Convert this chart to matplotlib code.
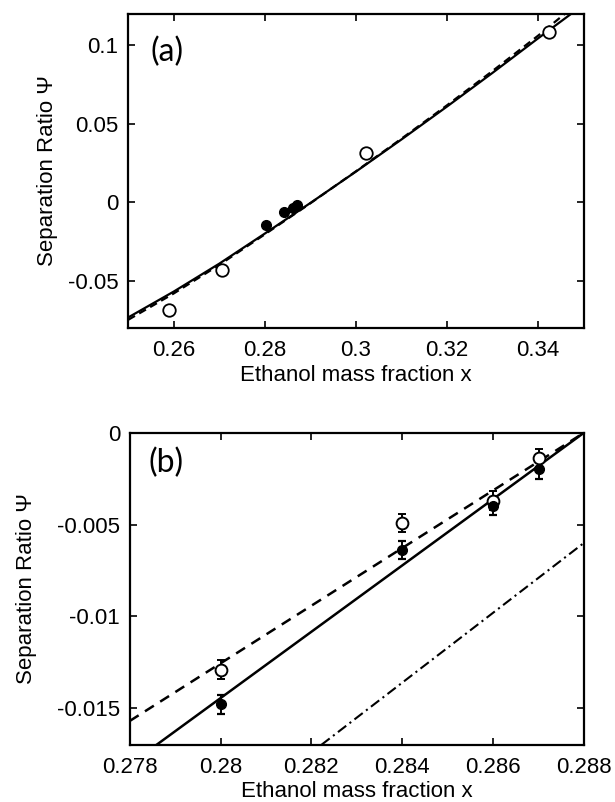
import matplotlib
matplotlib.use("Agg")
import matplotlib.pyplot as plt

# ---------------- data: panel (a) ----------------
a_open_x = [0.2590, 0.2707, 0.3022, 0.3425]
a_open_y = [-0.0685, -0.0430, 0.0315, 0.1085]
a_fill_x = [0.2802, 0.2842, 0.2861, 0.2870]
a_fill_y = [-0.0148, -0.0062, -0.0036, -0.0018]

a_solid_x = [0.250, 0.260, 0.270, 0.280, 0.290, 0.300, 0.310, 0.320, 0.330, 0.340, 0.3472]
a_solid_y = [-0.0735, -0.0570, -0.0392, -0.0200, -0.0005, 0.0195, 0.0400, 0.0610, 0.0825, 0.1045, 0.1200]
a_dash_x = [0.250, 0.260, 0.270, 0.280, 0.290, 0.300, 0.310, 0.320, 0.330, 0.340, 0.3458]
a_dash_y = [-0.0750, -0.0582, -0.0400, -0.0205, -0.0007, 0.0197, 0.0405, 0.0618, 0.0837, 0.1062, 0.1200]

a_xticks = [0.26, 0.28, 0.30, 0.32, 0.34]
a_xticklabels = ["0.26", "0.28", "0.3", "0.32", "0.34"]
a_yticks = [-0.05, 0.0, 0.05, 0.1]
a_yticklabels = ["-0.05", "0", "0.05", "0.1"]

# ---------------- data: panel (b) ----------------
b_open_x = [0.280, 0.284, 0.286, 0.287]
b_open_y = [-0.0129, -0.0049, -0.0037, -0.0014]
b_open_err = [0.0005, 0.0005, 0.0005, 0.0005]
b_fill_x = [0.280, 0.284, 0.286, 0.287]
b_fill_y = [-0.0148, -0.0064, -0.0040, -0.0020]
b_fill_err = [0.0005, 0.0005, 0.0005, 0.0005]

b_solid_x = [0.27859, 0.288]
b_solid_y = [-0.017, 0.0]
b_dash_x = [0.278, 0.288]
b_dash_y = [-0.0157, 0.0]
b_dashdot_x = [0.28222, 0.288]
b_dashdot_y = [-0.017, -0.0060]

b_xticks = [0.278, 0.280, 0.282, 0.284, 0.286, 0.288]
b_xticklabels = ["0.278", "0.28", "0.282", "0.284", "0.286", "0.288"]
b_yticks = [-0.015, -0.010, -0.005, 0.0]
b_yticklabels = ["-0.015", "-0.01", "-0.005", "0"]

xlabel = "Ethanol mass fraction x"
ylabel = "Separation Ratio \u03a8"

# ---------------- style ----------------
plt.rcParams["font.family"] = ["Liberation Sans", "DejaVu Sans"]
FS = 16

fig = plt.figure(figsize=(6.15, 8.02), dpi=100)
axa = fig.add_axes([0.2085, 0.5915, 0.7405, 0.391])
axb = fig.add_axes([0.2110, 0.0713, 0.7385, 0.3891])


def style(ax):
    for s in ax.spines.values():
        s.set_linewidth(1.6)
    ax.tick_params(direction="in", top=True, right=True, length=5, width=1.2,
                   labelsize=FS)
    ax.tick_params(axis="x", pad=9)
    ax.tick_params(axis="y", pad=7)


# panel (a)
axa.plot(a_solid_x, a_solid_y, color="black", lw=1.6)
axa.plot(a_dash_x, a_dash_y, color="black", lw=1.6, dashes=(3.5, 2.2))
axa.plot(a_open_x, a_open_y, "o", ms=9, mfc="white", mec="black", mew=1.3)
axa.plot(a_fill_x, a_fill_y, "o", ms=7, mfc="black", mec="black")
axa.set_xlim(0.25, 0.35)
axa.set_ylim(-0.08, 0.12)
axa.set_xticks(a_xticks)
axa.set_xticklabels(a_xticklabels)
axa.set_yticks(a_yticks)
axa.set_yticklabels(a_yticklabels)
style(axa)
axa.set_xlabel(xlabel, fontsize=FS, labelpad=3)
axa.set_ylabel(ylabel, fontsize=FS)
axa.yaxis.set_label_coords(-0.155, 0.5)
axa.text(0.05, 0.879, "(a)", transform=axa.transAxes, fontsize=23,
         family=["Lato", "DejaVu Sans"], fontweight="normal",
         ha="left", va="center")

# panel (b)
axb.plot(b_solid_x, b_solid_y, color="black", lw=1.8)
axb.plot(b_dash_x, b_dash_y, color="black", lw=1.8, dashes=(4.2, 3.0))
axb.plot(b_dashdot_x, b_dashdot_y, color="black", lw=1.5, dashes=(5, 2, 1, 2))
axb.errorbar(b_open_x, b_open_y, yerr=b_open_err, fmt="o", ms=8.5,
             mfc="white", mec="black", mew=1.4, ecolor="black",
             elinewidth=1.4, capsize=3, capthick=1.6, zorder=3)
axb.errorbar(b_fill_x, b_fill_y, yerr=b_fill_err, fmt="o", ms=7,
             mfc="black", mec="black", ecolor="black",
             elinewidth=1.4, capsize=3, capthick=1.6, zorder=3)
axb.set_xlim(0.278, 0.288)
axb.set_ylim(-0.017, 0.0)
axb.set_xticks(b_xticks)
axb.set_xticklabels(b_xticklabels)
axb.set_yticks(b_yticks)
axb.set_yticklabels(b_yticklabels)
style(axb)
axb.set_xlabel(xlabel, fontsize=FS, labelpad=2)
axb.set_ylabel(ylabel, fontsize=FS)
axb.yaxis.set_label_coords(-0.205, 0.5)
axb.text(0.042, 0.902, "(b)", transform=axb.transAxes, fontsize=23,
         family=["Lato", "DejaVu Sans"], fontweight="normal",
         ha="left", va="center")

fig.savefig("out.png", dpi=100)
